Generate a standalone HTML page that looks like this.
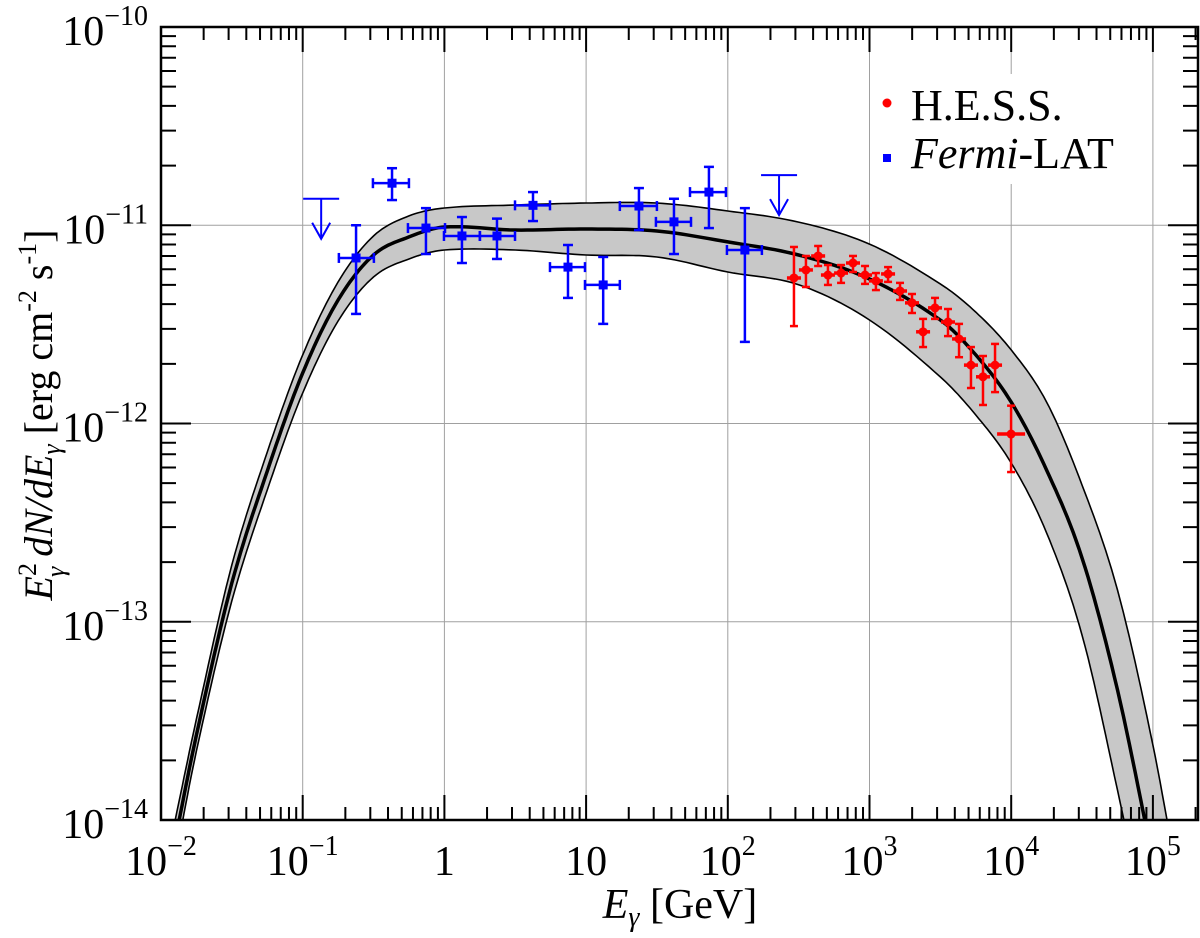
<!DOCTYPE html>
<html><head><meta charset="utf-8"><style>
html,body{margin:0;padding:0;background:#fff;width:1200px;height:938px;overflow:hidden;}
svg{display:block;font-family:"Liberation Serif","DejaVu Serif",serif;}
</style></head><body>
<svg id="chart" width="1200" height="938" viewBox="0 0 1200 938" xmlns="http://www.w3.org/2000/svg">
<defs><clipPath id="clip"><rect x="161" y="27" width="1037" height="793"/></clipPath></defs>
<g id="grid"></g>
<g id="band" clip-path="url(#clip)"></g>
<g id="fermi"></g>
<g id="hess"></g>
<g id="axes"></g>
<g id="legend">
  <rect x="876" y="74" width="272" height="110" fill="#fff"/>
  <circle cx="887" cy="103" r="4.5" fill="#f00"/>
  <text x="911" y="120" font-size="44">H.E.S.S.</text>
  <rect x="883" y="154" width="8" height="8" fill="#00f"/>
  <text x="911" y="168" font-size="44"><tspan font-style="italic">Fermi</tspan>-LAT</text>
</g>
<text x="680" y="918" font-size="42" text-anchor="middle"><tspan font-style="italic">E</tspan><tspan font-style="italic" font-size="28" dy="8">γ</tspan><tspan dy="-8"> [GeV]</tspan></text>
<text transform="translate(52,415) rotate(-90)" font-size="40" text-anchor="middle"><tspan font-style="italic">E</tspan><tspan font-size="26" dy="-16">2</tspan><tspan font-style="italic" font-size="26" dx="-14" dy="28">γ</tspan><tspan font-style="italic" dy="-12"> dN</tspan><tspan font-style="italic">/dE</tspan><tspan font-style="italic" font-size="26" dy="8">γ</tspan><tspan dy="-8"> [erg cm</tspan><tspan font-size="26" dy="-16">-2</tspan><tspan dy="16"> s</tspan><tspan font-size="26" dy="-16">-1</tspan><tspan dy="16">]</tspan></text>
</svg>
<script>
// ---- data ----
const fermiE   = [0.238,0.427,0.741,1.33,2.35,4.22,7.45,13.2,23.6,41.7,73.6,132];
const fermiElo = [0.180,0.313,0.553,0.993,1.78,3.15,5.56,9.82,17.3,31.1,54.1,98.6];
const fermiEhi = [0.318,0.562,1.01,1.78,3.15,5.56,9.82,17.3,31.6,55.0,97.0,174];
const fermiF   = [6.84e-12,1.63e-11,9.68e-12,8.83e-12,8.83e-12,1.26e-11,6.15e-12,5.00e-12,1.25e-11,1.04e-11,1.47e-11,7.50e-12];
const fermiFlo = [3.57e-12,1.34e-11,7.16e-12,6.45e-12,6.76e-12,1.05e-11,4.30e-12,3.18e-12,9.46e-12,7.16e-12,9.68e-12,2.58e-12];
const fermiFhi = [1.00e-11,1.94e-11,1.22e-11,1.10e-11,1.08e-11,1.47e-11,7.95e-12,6.92e-12,1.54e-11,1.36e-11,1.97e-11,1.22e-11];
const ulE = [0.135,230];
const ulF = [1.36e-11,1.79e-11];
const hessE   = [293,356,434,509,630,765,930,1110,1352,1642,1995,2388,2900,3580,4285,5200,6324,7690,9980];
const hessF   = [5.42e-12,5.95e-12,7.00e-12,5.61e-12,5.74e-12,6.45e-12,5.61e-12,5.24e-12,5.68e-12,4.66e-12,4.06e-12,2.90e-12,3.83e-12,3.25e-12,2.67e-12,1.97e-12,1.72e-12,1.97e-12,8.85e-13];
const hessFhi = [7.77e-12,7.00e-12,7.86e-12,6.30e-12,6.30e-12,7.00e-12,6.23e-12,5.74e-12,6.15e-12,5.12e-12,4.50e-12,3.37e-12,4.30e-12,3.78e-12,3.18e-12,2.43e-12,2.19e-12,2.52e-12,1.23e-12];
const hessFlo = [3.10e-12,4.88e-12,6.23e-12,5.00e-12,5.12e-12,5.81e-12,5.06e-12,4.71e-12,5.18e-12,4.20e-12,3.61e-12,2.43e-12,3.37e-12,2.76e-12,2.16e-12,1.51e-12,1.24e-12,1.44e-12,5.69e-13];
const modelLogE = [-1.9,-1.75,-1.5,-1.25,-1,-0.75,-0.5,-0.25,0,0.5,1,1.5,2,2.5,3,3.5,3.75,4,4.25,4.5,4.75,5,5.2];
const modelLogF = [-14.101,-13.571,-12.805,-12.240,-11.745,-11.377,-11.150,-11.059,-11.009,-11.024,-11.019,-11.029,-11.084,-11.150,-11.271,-11.478,-11.654,-11.892,-12.235,-12.678,-13.344,-14.202,-14.908];
const upperLogF = [-14.000,-13.491,-12.714,-12.144,-11.654,-11.286,-11.054,-10.953,-10.913,-10.898,-10.888,-10.888,-10.928,-10.984,-11.095,-11.296,-11.438,-11.629,-11.892,-12.310,-12.840,-13.622,-14.404];
const lowerLogF = [-14.202,-13.652,-12.895,-12.335,-11.846,-11.483,-11.261,-11.170,-11.125,-11.125,-11.150,-11.160,-11.236,-11.300,-11.478,-11.765,-11.957,-12.199,-12.552,-13.067,-13.849,-14.706,-15.412];
const xTickExp = [-2,-1,0,1,2,3,4,5];
const xTickLabels = [["10","−2"],["10","−1"],["1",""],["10",""],["10","2"],["10","3"],["10","4"],["10","5"]];
const yTickExp = [-10,-11,-12,-13,-14];
const yTickLabels = [["10","−10"],["10","−11"],["10","−12"],["10","−13"],["10","−14"]];

// ---- axes ----
const X0=161,X1=1198,Y0=27,Y1=820;
const DX=141.7, DY=198.25;
const xl = l => X0 + (l+2)*DX;
const yl = l => Y0 + (-10 - l)*DY;
const xs = v => xl(Math.log10(v));
const ys = v => yl(Math.log10(v));
const NS="http://www.w3.org/2000/svg";
function mk(tag, attrs, parent){const e=document.createElementNS(NS,tag);for(const k in attrs)e.setAttribute(k,attrs[k]);parent.appendChild(e);return e;}

const grid=document.getElementById('grid');
xTickExp.forEach(e=>{const x=xl(e);if(x>X0+1&&x<X1-1){const g=mk('line',{x1:x,x2:x,y1:Y0,y2:Y1,stroke:'#a0a0a0','stroke-width':1},grid);

}});
yTickExp.forEach(e=>{const y=yl(e);if(y>Y0+1&&y<Y1-1){const g=mk('line',{x1:X0,x2:X1,y1:y,y2:y,stroke:'#a0a0a0','stroke-width':1},grid);

}});

// ---- model band (smooth interpolation in log space) ----
function interp(xsArr, ysArr, n){
  const m=xsArr.map((_,i)=>{const a=Math.max(0,i-1),b=Math.min(xsArr.length-1,i+1);return (ysArr[b]-ysArr[a])/(xsArr[b]-xsArr[a]);});
  const out=[];
  for(let i=0;i<xsArr.length-1;i++){const h=xsArr[i+1]-xsArr[i];
    for(let k=0;k<n;k++){const t=k/n,t2=t*t,t3=t2*t;
      const y=(2*t3-3*t2+1)*ysArr[i]+(t3-2*t2+t)*h*m[i]+(-2*t3+3*t2)*ysArr[i+1]+(t3-t2)*h*m[i+1];
      out.push([xl(xsArr[i]+t*h),yl(y)]);}}
  out.push([xl(xsArr[xsArr.length-1]),yl(ysArr[ysArr.length-1])]);
  return out;}
const toD=p=>'M'+p.map(q=>q[0].toFixed(1)+','+q[1].toFixed(1)).join(' L');
const band=document.getElementById('band');
const up=interp(modelLogE,upperLogF,12), lo=interp(modelLogE,lowerLogF,12), ce=interp(modelLogE,modelLogF,12);
const fill=mk('path',{d:toD(up.concat(lo.slice().reverse()))+' Z',fill:'#c8c8c8',stroke:'none'},band);


const ul1=mk('path',{d:toD(up),fill:'none',stroke:'#000','stroke-width':1.6},band);


const ll1=mk('path',{d:toD(lo),fill:'none',stroke:'#000','stroke-width':1.6},band);


const cl=mk('path',{d:toD(ce),fill:'none',stroke:'#000','stroke-width':3.5},band);



// ---- Fermi ----
const fg=document.getElementById('fermi');
fermiE.forEach((e,i)=>{const g=mk('g',{stroke:'#00f','stroke-width':2.5,fill:'#00f'},fg);


const x=xs(e),y=ys(fermiF[i]),xa=xs(fermiElo[i]),xb=xs(fermiEhi[i]),ya=ys(fermiFhi[i]),yb=ys(fermiFlo[i]);
mk('line',{x1:xa,x2:xb,y1:y,y2:y},g);mk('line',{x1:x,x2:x,y1:ya,y2:yb},g);
mk('line',{x1:xa,x2:xa,y1:y-5,y2:y+5},g);mk('line',{x1:xb,x2:xb,y1:y-5,y2:y+5},g);
mk('line',{x1:x-5,x2:x+5,y1:ya,y2:ya},g);mk('line',{x1:x-5,x2:x+5,y1:yb,y2:yb},g);
mk('rect',{x:x-4.5,y:y-4.5,width:9,height:9,stroke:'none'},g);});
ulE.forEach((e,i)=>{const g=mk('g',{stroke:'#00f','stroke-width':2,fill:'none'},fg);


const x=xs(e),y=ys(ulF[i]);
mk('line',{x1:x-18,x2:x+18,y1:y,y2:y},g);mk('line',{x1:x,x2:x,y1:y,y2:y+40},g);
mk('polyline',{points:`${x-9},${y+24} ${x},${y+40} ${x+9},${y+24}`},g);});

// ---- HESS ----
const hg=document.getElementById('hess');
hessE.forEach((e,i)=>{const g=mk('g',{stroke:'#f00','stroke-width':2.5,fill:'#f00'},hg);


const x=xs(e),y=ys(hessF[i]),ya=ys(hessFhi[i]),yb=ys(hessFlo[i]);const hw=i===hessE.length-1?14:7;
mk('line',{x1:x-hw,x2:x+hw,y1:y,y2:y,'stroke-width':3.5},g);mk('line',{x1:x,x2:x,y1:ya,y2:yb},g);
mk('line',{x1:x-4,x2:x+4,y1:ya,y2:ya},g);mk('line',{x1:x-4,x2:x+4,y1:yb,y2:yb},g);
mk('circle',{cx:x,cy:y,r:4.5,stroke:'none'},g);});

// ---- axes frame & ticks ----
const ax=document.getElementById('axes');
const fr=mk('rect',{x:X0,y:Y0,width:X1-X0,height:Y1-Y0,fill:'none',stroke:'#000','stroke-width':2.5},ax);


let tk='';
for(let d=-2;d<=5;d++){for(let m=1;m<=9;m++){const x=xl(d+Math.log10(m));if(x<X0||x>X1)continue;const L=m===1?25:13;
tk+=`M${x},${Y1}v${-L}M${x},${Y0}v${L}`;}}
for(let d=-14;d<-10;d++){for(let m=1;m<=9;m++){const y=yl(d+Math.log10(m));const L=m===1?30:15;tk+=`M${X0},${y}h${L}M${X1},${y}h${-L}`;}}
const tp=mk('path',{d:tk,stroke:'#000','stroke-width':2,fill:'none'},ax);


xTickExp.forEach((e,i)=>{const t=mk('text',{x:xl(e),y:875,'font-size':42,'text-anchor':'middle'},ax);


t.innerHTML=xTickLabels[i][0]+(xTickLabels[i][1]?`<tspan font-size="28" dy="-20">${xTickLabels[i][1]}</tspan>`:'');});
yTickExp.forEach((e,i)=>{const t=mk('text',{x:148,y:yl(e)+18,'font-size':42,'text-anchor':'end'},ax);


t.innerHTML=yTickLabels[i][0]+`<tspan font-size="28" dy="-20">${yTickLabels[i][1]}</tspan>`;});
</script>
</body></html>
